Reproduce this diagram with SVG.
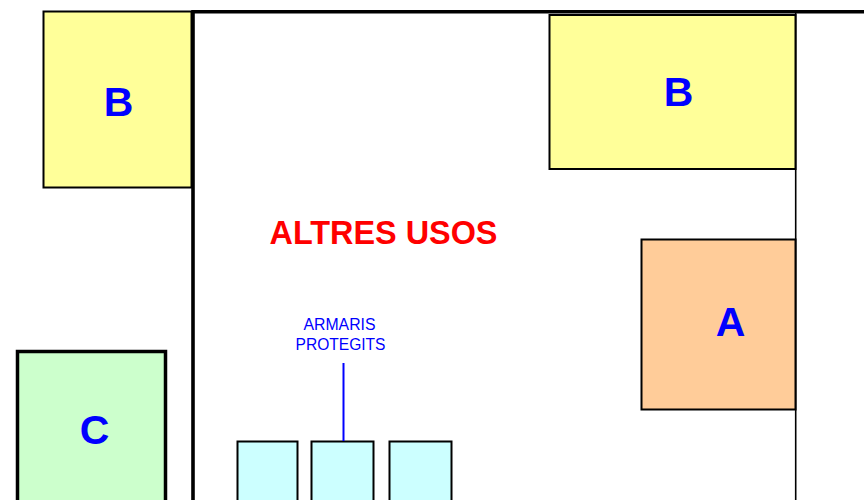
<svg xmlns="http://www.w3.org/2000/svg" width="864" height="500" viewBox="0 0 864 500">
<style>
text{font-family:"Liberation Sans",Arial,sans-serif;text-anchor:middle;fill:#0000ff}
.big{font-size:41px;font-weight:bold}
.box{stroke:#000;stroke-width:2}
.y{fill:#ffff99}.a{fill:#ffcc99}.c{fill:#ccffcc;stroke-width:3.5}.k{fill:#ccffff}
.wall{stroke:#000;fill:none}
</style>
<rect width="864" height="500" fill="#fff"/>
<g id="walls">
<path class="wall" stroke-width="3.6" d="M193 500V11.7H864"/>
<path class="wall" stroke-width="1.6" d="M795.700 12V500"/>
</g>
<g id="node-b-left"><rect class="box y" x="43.500" y="11.500" width="148" height="176"/><text class="big" x="118.500" y="116">B</text></g>
<g id="node-b-right"><rect class="box y" x="549.500" y="15" width="246" height="154"/><text class="big" x="678.500" y="106">B</text></g>
<g id="node-a"><rect class="box a" x="641.500" y="239.500" width="154" height="170"/><text class="big" x="730.500" y="336">A</text></g>
<g id="node-c"><rect class="box c" x="17.500" y="351.500" width="148" height="160"/><text class="big" x="94.500" y="444">C</text></g>
<g id="node-title"><text x="383.500" y="244" font-size="32.400" font-weight="bold" style="fill:#ff0000">ALTRES USOS</text></g>
<g id="node-armaris-label"><text x="339.500" y="330" font-size="16" textLength="72" lengthAdjust="spacingAndGlyphs">ARMARIS</text><text x="340.500" y="350" font-size="16" textLength="90" lengthAdjust="spacingAndGlyphs">PROTEGITS</text></g>
<g id="node-armari-1"><rect class="box k" x="237.500" y="441.500" width="60" height="70"/></g>
<g id="node-armari-2"><rect class="box k" x="311.500" y="441.500" width="62" height="70"/></g>
<g id="node-armari-3"><rect class="box k" x="389.500" y="441.500" width="62" height="70"/></g>
<g id="connectors"><line x1="343.500" y1="363" x2="343.500" y2="441" stroke="#0000ff" stroke-width="2"/></g>
</svg>
